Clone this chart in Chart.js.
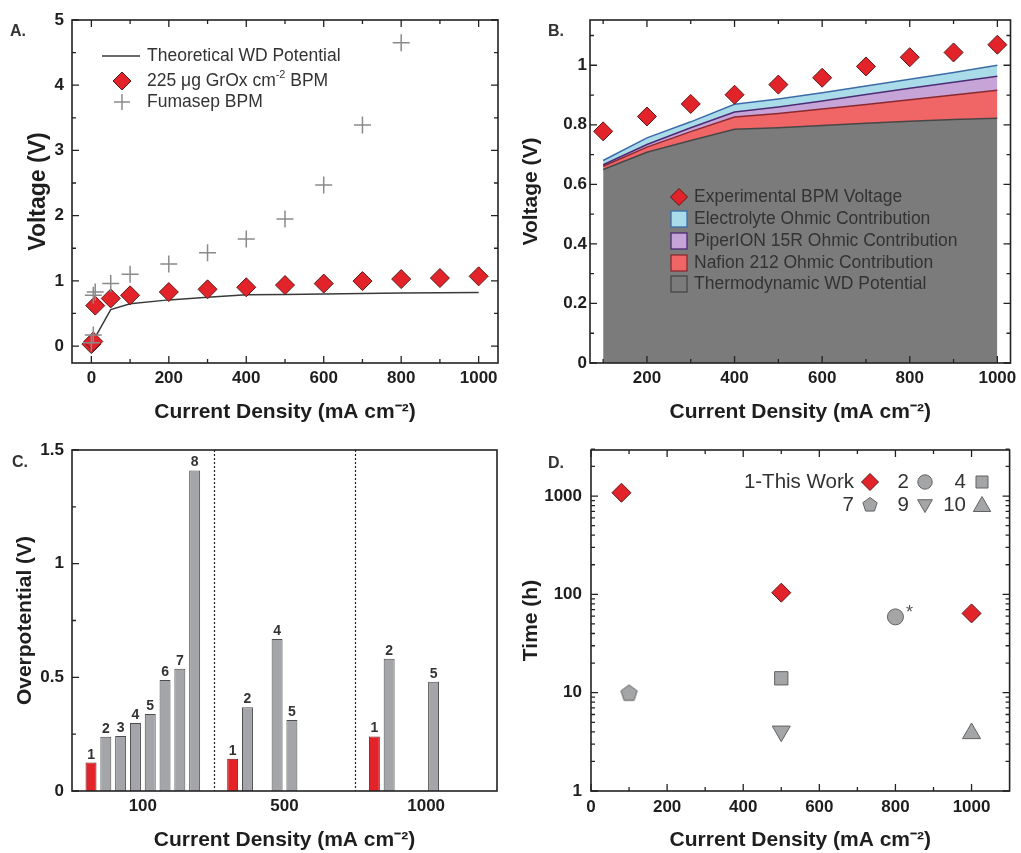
<!DOCTYPE html>
<html><head><meta charset="utf-8">
<script src="https://cdn.jsdelivr.net/npm/chart.js@4.4.1/dist/chart.umd.min.js"></script>
<style>
html,body{margin:0;padding:0;background:#fff;}
#wrap{position:relative;width:1021px;height:853px;overflow:hidden;background:#fff;}
canvas{position:absolute;}
</style></head><body>
<div id="wrap">
<canvas id="cA" width="510" height="425" style="left:0;top:0"></canvas>
<canvas id="cB" width="511" height="425" style="left:510px;top:0"></canvas>
<canvas id="cC" width="510" height="428" style="left:0;top:425px"></canvas>
<canvas id="cD" width="511" height="428" style="left:510px;top:425px"></canvas>
</div>
<script>
// ---------------- Panel A data ----------------
const aTheoX = [0, 50, 100, 200, 300, 400, 500, 600, 700, 800, 900, 1000];
const aTheoY = [0.03, 0.56, 0.65, 0.708, 0.747, 0.785, 0.79, 0.798, 0.805, 0.812, 0.818, 0.822];
const aGrOxX = [0, 5, 10, 50, 100, 200, 300, 400, 500, 600, 700, 800, 900, 1000];
const aGrOxY = [0.03, 0.07, 0.62, 0.73, 0.778, 0.828, 0.870, 0.901, 0.935, 0.958, 0.996, 1.027, 1.043, 1.069];
const aFumaX = [0, 5, 5, 10, 50, 100, 200, 300, 400, 500, 600, 700, 800];
const aFumaY = [0.05, 0.17, 0.78, 0.83, 0.96, 1.10, 1.26, 1.43, 1.64, 1.95, 2.47, 3.39, 4.65];
const aXTicks = [0, 200, 400, 600, 800, 1000];
const aXLabels = ['0', '200', '400', '600', '800', '1000'];
const aXMinor = [100, 300, 500, 700, 900];
const aYTicks = [0, 1, 2, 3, 4, 5];
const aYLabels = ['0', '1', '2', '3', '4', '5'];
const aYMinor = [0.5, 1.5, 2.5, 3.5, 4.5];

// ---------------- Panel B data ----------------
const bX = [100, 200, 300, 400, 500, 600, 700, 800, 900, 1000];
const bExp = [0.778, 0.828, 0.870, 0.901, 0.935, 0.958, 0.996, 1.027, 1.043, 1.069];
const bElectrolyte = [0.680, 0.756, 0.810, 0.869, 0.887, 0.908, 0.930, 0.953, 0.976, 1.000];
const bPiperion = [0.666, 0.734, 0.790, 0.843, 0.860, 0.880, 0.902, 0.923, 0.943, 0.963];
const bNafion = [0.661, 0.725, 0.777, 0.826, 0.838, 0.853, 0.868, 0.884, 0.900, 0.916];
const bThermo = [0.650, 0.708, 0.747, 0.785, 0.790, 0.798, 0.805, 0.812, 0.818, 0.822];
const bXTicks = [200, 400, 600, 800, 1000];
const bXLabels = ['200', '400', '600', '800', '1000'];
const bXMinor = [100, 300, 500, 700, 900];
const bYTicks = [0, 0.2, 0.4, 0.6, 0.8, 1];
const bYLabels = ['0', '0.2', '0.4', '0.6', '0.8', '1'];
const bYMinor = [0.1, 0.3, 0.5, 0.7, 0.9, 1.1];

// ---------------- Panel C data ----------------
const cCats = ['100', '500', '1000'];
const cRef1 = [0.125, 0.142, 0.240];
const cRef2 = [0.239, 0.368, 0.582];
const cRef3 = [0.242, null, null];
const cRef4 = [0.299, 0.669, null];
const cRef5 = [0.339, 0.312, 0.481];
const cRef6 = [0.488, null, null];
const cRef7 = [0.538, null, null];
const cRef8 = [1.41, null, null];
const cRefNames = ['1', '2', '3', '4', '5', '6', '7', '8'];
const cYTicks = [0, 0.5, 1, 1.5];
const cYLabels = ['0', '0.5', '1', '1.5'];
const cYMinor = [0.25, 0.75, 1.25];

// ---------------- Panel D data ----------------
const dThisX = [80, 500, 1000];
const dThisY = [1080, 104, 64];
const dRef2X = [800];  const dRef2Y = [59];
const dRef4X = [500];  const dRef4Y = [14];
const dRef7X = [100];  const dRef7Y = [10];
const dRef9X = [500];  const dRef9Y = [4.05];
const dRef10X = [1000]; const dRef10Y = [3.85];
const dXTicks = [0, 200, 400, 600, 800, 1000];
const dXLabels = ['0', '200', '400', '600', '800', '1000'];
const dXMinor = [100, 300, 500, 700, 900];
const dYTicks = [1, 10, 100, 1000];
const dYLabels = ['1', '10', '100', '1000'];
const dYMinor = [2,3,4,5,6,7,8,9,20,30,40,50,60,70,80,90,200,300,400,500,600,700,800,900,2000,3000];

// ---------------- styling helpers ----------------
const TXT = '#1e1e1e';
const FONT = "'Liberation Sans', Arial, Helvetica, sans-serif";
const RED = '#e3232a', RED_EDGE = '#5e1717';
const GRAY = '#a4a5a7', GRAY_EDGE = '#626262';
const BAR_GRAY = '#a3a5a8', BAR_EDGE = '#4c4c4c';
const tickFont = {family: FONT, size: 17, weight: 'bold'};
const titleFont = {family: FONT, size: 21, weight: 'bold'};
const XTITLE = 'Current Density (mA cm\u207B\u00B2)';

function pts(xs, ys) { return xs.map((x, i) => ({x: x, y: ys[i]})); }

function scale(o) {
  const s = {
    type: o.type || 'linear',
    position: o.pos,
    grid: {display: false, drawTicks: false},
    border: {display: false},
    ticks: {font: tickFont, color: TXT, padding: o.pad, autoSkip: false, maxRotation: 0, minRotation: 0,
            callback: (v, i) => o.labels[i]},
    afterFit: sc => {
      if (o.pos === 'bottom') sc.height = o.size; else sc.width = o.size;
      sc.paddingLeft = 0; sc.paddingRight = 0; sc.paddingTop = 0; sc.paddingBottom = 0;
    },
    title: {display: true, text: o.title, font: o.titleFont || titleFont, color: TXT, padding: o.titlePad}
  };
  if (o.min !== undefined) s.min = o.min;
  if (o.max !== undefined) s.max = o.max;
  if (o.ticksVals) s.afterBuildTicks = sc => { sc.ticks = o.ticksVals.map(v => ({value: v})); };
  return s;
}

function baseOpts(pad) {
  return {
    responsive: false, animation: false, events: [],
    layout: {padding: pad},
    plugins: {legend: {display: false}, tooltip: {enabled: false}}
  };
}

function frame(ctx, ca) {
  ctx.save(); ctx.strokeStyle = '#222'; ctx.lineWidth = 1.6;
  ctx.strokeRect(ca.left, ca.top, ca.right - ca.left, ca.bottom - ca.top);
  ctx.restore();
}
function tickMarks(chart, axis, vals, len, sides) {
  const ctx = chart.ctx, ca = chart.chartArea, sc = chart.scales[axis];
  ctx.save(); ctx.strokeStyle = '#222'; ctx.lineWidth = 1.3; ctx.beginPath();
  vals.forEach(v => {
    const p = sc.getPixelForValue(v);
    sides.forEach(s => {
      if (s === 'bottom') { ctx.moveTo(p, ca.bottom); ctx.lineTo(p, ca.bottom - len); }
      if (s === 'top') { ctx.moveTo(p, ca.top); ctx.lineTo(p, ca.top + len); }
      if (s === 'left') { ctx.moveTo(ca.left, p); ctx.lineTo(ca.left + len, p); }
      if (s === 'right') { ctx.moveTo(ca.right, p); ctx.lineTo(ca.right - len, p); }
    });
  });
  ctx.stroke(); ctx.restore();
}
function panelLabel(ctx, t, x, y) {
  ctx.save(); ctx.font = 'bold 16px ' + FONT; ctx.fillStyle = '#333';
  ctx.textAlign = 'left'; ctx.textBaseline = 'middle'; ctx.fillText(t, x, y); ctx.restore();
}
function marker(ctx, type, x, y, r, fill, stroke, lw) {
  ctx.save(); ctx.beginPath();
  if (type === 'diamond') { ctx.moveTo(x, y - r); ctx.lineTo(x + r, y); ctx.lineTo(x, y + r); ctx.lineTo(x - r, y); ctx.closePath(); }
  else if (type === 'circle') { ctx.arc(x, y, r, 0, Math.PI * 2); }
  else if (type === 'square') { ctx.rect(x - r, y - r, 2 * r, 2 * r); }
  else if (type === 'tri' || type === 'tridown' || type === 'pent') {
    const n = type === 'pent' ? 5 : 3;
    const a0 = type === 'tridown' ? Math.PI / 2 : -Math.PI / 2;
    for (let k = 0; k < n; k++) {
      const a = a0 + k * 2 * Math.PI / n;
      const px = x + r * Math.cos(a), py = y + r * Math.sin(a);
      if (k === 0) ctx.moveTo(px, py); else ctx.lineTo(px, py);
    }
    ctx.closePath();
  } else if (type === 'cross') {
    ctx.moveTo(x - r, y); ctx.lineTo(x + r, y); ctx.moveTo(x, y - r); ctx.lineTo(x, y + r);
  }
  if (fill && type !== 'cross') { ctx.fillStyle = fill; ctx.fill(); }
  if (stroke) { ctx.strokeStyle = stroke; ctx.lineWidth = lw || 1; ctx.stroke(); }
  ctx.restore();
}
function supText(ctx, parts, x, y, size, color) {
  ctx.save(); ctx.fillStyle = color; ctx.textAlign = 'left'; ctx.textBaseline = 'middle';
  let cx = x;
  parts.forEach(p => {
    const sup = p[1];
    ctx.font = (sup ? size * 0.62 : size) + 'px ' + FONT;
    ctx.fillText(p[0], cx, sup ? y - size * 0.36 : y);
    cx += ctx.measureText(p[0]).width;
  });
  ctx.restore();
}
function legText(ctx, t, x, y, size, align) {
  ctx.save(); ctx.fillStyle = '#333'; ctx.font = size + 'px ' + FONT;
  ctx.textAlign = align || 'left'; ctx.textBaseline = 'middle'; ctx.fillText(t, x, y); ctx.restore();
}
function makePent(r, fill, stroke) {
  const c = document.createElement('canvas'); const s = Math.ceil(2 * r + 4);
  c.width = s; c.height = s;
  marker(c.getContext('2d'), 'pent', s / 2, s / 2 + 0.8, r, fill, stroke, 1);
  return c;
}

// ---------------- Panel A ----------------
new Chart(document.getElementById('cA'), {
  type: 'scatter',
  data: {datasets: [
    {label: 'Fumasep BPM', data: pts(aFumaX, aFumaY), pointStyle: 'cross', pointRadius: 8.5,
     pointBorderColor: '#8a8a8a', pointBorderWidth: 1.5, showLine: false},
    {label: '225 μg GrOx cm-2 BPM', data: pts(aGrOxX, aGrOxY), pointStyle: 'rectRot', pointRadius: 9.5,
     pointBackgroundColor: RED, pointBorderColor: RED_EDGE, pointBorderWidth: 1, showLine: false},
    {label: 'Theoretical WD Potential', data: pts(aTheoX, aTheoY), showLine: true, pointRadius: 0,
     borderColor: '#3a3a3a', borderWidth: 1.5, fill: false}
  ]},
  options: Object.assign(baseOpts({left: 0, top: 20, right: 12, bottom: 0}), {
    scales: {
      x: scale({pos: 'bottom', min: -50, max: 1050, ticksVals: aXTicks, labels: aXLabels, size: 62, pad: 5,
                title: XTITLE, titlePad: {top: 0, bottom: 0}}),
      y: scale({pos: 'left', min: -0.26, max: 5, ticksVals: aYTicks, labels: aYLabels, size: 72, pad: 8,
                title: 'Voltage (V)', titleFont: {family: FONT, size: 23, weight: 'bold'}, titlePad: {top: 25, bottom: 0}})
    }
  }),
  plugins: [{id: 'decoA', afterDraw(chart) {
    const ctx = chart.ctx;
    frame(ctx, chart.chartArea);
    tickMarks(chart, 'x', aXTicks, 7, ['bottom', 'top']);
    tickMarks(chart, 'x', aXMinor, 4, ['bottom', 'top']);
    tickMarks(chart, 'y', aYTicks, 7, ['left', 'right']);
    tickMarks(chart, 'y', aYMinor, 4, ['left', 'right']);
    panelLabel(ctx, 'A.', 10, 32);
    ctx.save(); ctx.strokeStyle = '#3a3a3a'; ctx.lineWidth = 1.5;
    ctx.beginPath(); ctx.moveTo(102, 56); ctx.lineTo(140, 56); ctx.stroke(); ctx.restore();
    legText(ctx, 'Theoretical WD Potential', 147, 56, 17.5);
    marker(ctx, 'diamond', 122, 81, 9, RED, RED_EDGE, 1);
    supText(ctx, [['225 μg GrOx cm', false], ['-2', true], [' BPM', false]], 147, 81, 17.5, '#333');
    marker(ctx, 'cross', 122, 102, 8, null, '#8a8a8a', 1.5);
    legText(ctx, 'Fumasep BPM', 147, 102, 17.5);
  }}]
});

// ---------------- Panel B ----------------
const areaColors = [
  ['#3c6ca8', '#aadbe9'], ['#4b2c75', '#c7a4d7'], ['#8a2a30', '#f06566'], ['#474747', '#7b7b7b']
];
new Chart(document.getElementById('cB'), {
  type: 'scatter',
  data: {datasets: [
    {label: 'Experimental BPM Voltage', data: pts(bX, bExp), pointStyle: 'rectRot', pointRadius: 9.5,
     pointBackgroundColor: RED, pointBorderColor: RED_EDGE, pointBorderWidth: 1, showLine: false},
    {label: 'Electrolyte Ohmic Contribution', data: pts(bX, bElectrolyte), showLine: true, pointRadius: 0,
     borderColor: areaColors[0][0], backgroundColor: areaColors[0][1], borderWidth: 1.5, fill: 2},
    {label: 'PiperION 15R Ohmic Contribution', data: pts(bX, bPiperion), showLine: true, pointRadius: 0,
     borderColor: areaColors[1][0], backgroundColor: areaColors[1][1], borderWidth: 1.5, fill: 3},
    {label: 'Nafion 212 Ohmic Contribution', data: pts(bX, bNafion), showLine: true, pointRadius: 0,
     borderColor: areaColors[2][0], backgroundColor: areaColors[2][1], borderWidth: 1.5, fill: 4},
    {label: 'Thermodynamic WD Potential', data: pts(bX, bThermo), showLine: true, pointRadius: 0,
     borderColor: areaColors[3][0], backgroundColor: areaColors[3][1], borderWidth: 1.5, fill: 'origin'}
  ]},
  options: Object.assign(baseOpts({left: 0, top: 20, right: 6, bottom: 0}), {
    plugins: {legend: {display: false}, tooltip: {enabled: false}, filler: {drawTime: 'beforeDatasetsDraw'}},
    scales: {
      x: scale({pos: 'bottom', min: 70, max: 1030, ticksVals: bXTicks, labels: bXLabels, size: 62, pad: 5,
                title: XTITLE, titlePad: {top: 0, bottom: 0}}),
      y: scale({pos: 'left', min: 0, max: 1.152, ticksVals: bYTicks, labels: bYLabels, size: 80, pad: 3,
                title: 'Voltage (V)', titlePad: {top: 9, bottom: 0}})
    }
  }),
  plugins: [{id: 'decoB', afterDraw(chart) {
    const ctx = chart.ctx;
    frame(ctx, chart.chartArea);
    tickMarks(chart, 'x', bXTicks, 7, ['bottom', 'top']);
    tickMarks(chart, 'x', bXMinor, 4, ['bottom', 'top']);
    tickMarks(chart, 'y', bYTicks, 7, ['left', 'right']);
    tickMarks(chart, 'y', bYMinor, 4, ['left', 'right']);
    panelLabel(ctx, 'B.', 38, 32);
    const ds = chart.data.datasets;
    const rows = [197, 219, 241, 263, 284];
    marker(ctx, 'diamond', 169, rows[0], 8.5, RED, RED_EDGE, 1);
    legText(ctx, ds[0].label, 184, rows[0], 17.5);
    for (let i = 1; i < 5; i++) {
      ctx.save(); ctx.fillStyle = areaColors[i - 1][1]; ctx.strokeStyle = areaColors[i - 1][0]; ctx.lineWidth = 1.3;
      ctx.fillRect(161, rows[i] - 8, 16, 16); ctx.strokeRect(161, rows[i] - 8, 16, 16); ctx.restore();
      legText(ctx, ds[i].label, 184, rows[i], 17.5);
    }
  }}]
});

// ---------------- Panel C ----------------
const cSeries = [cRef1, cRef2, cRef3, cRef4, cRef5, cRef6, cRef7, cRef8];
new Chart(document.getElementById('cC'), {
  type: 'bar',
  data: {labels: cCats, datasets: cSeries.map((vals, i) => ({
    label: cRefNames[i], data: vals,
    backgroundColor: i === 0 ? RED : BAR_GRAY, borderColor: i === 0 ? '#6e1616' : BAR_EDGE, borderWidth: 1,
    categoryPercentage: 0.836, barPercentage: 0.74
  }))},
  options: Object.assign(baseOpts({left: 0, top: 25, right: 13, bottom: 0}), {
    scales: {
      x: scale({pos: 'bottom', type: 'category', labels: cCats, size: 62, pad: 5.5,
                title: XTITLE, titlePad: {top: 0, bottom: 0}}),
      y: scale({pos: 'left', min: 0, max: 1.5, ticksVals: cYTicks, labels: cYLabels, size: 72, pad: 8,
                title: 'Overpotential (V)', titlePad: {top: 13, bottom: 0}})
    }
  }),
  plugins: [{id: 'decoC', afterDraw(chart) {
    const ctx = chart.ctx, ca = chart.chartArea, xs = chart.scales.x;
    // dotted separators between current-density groups
    ctx.save(); ctx.strokeStyle = '#222'; ctx.lineWidth = 1.2; ctx.setLineDash([2, 2]);
    for (let i = 0; i < cCats.length - 1; i++) {
      const p = Math.round((xs.getPixelForValue(i) + xs.getPixelForValue(i + 1)) / 2) + 0.5;
      ctx.beginPath(); ctx.moveTo(p, ca.top); ctx.lineTo(p, ca.bottom); ctx.stroke();
    }
    ctx.restore();
    frame(ctx, ca);
    tickMarks(chart, 'y', cYTicks, 7, ['left']);
    tickMarks(chart, 'y', cYMinor, 4, ['left']);
    panelLabel(ctx, 'C.', 12, 38);
    ctx.save(); ctx.font = 'bold 14px ' + FONT; ctx.fillStyle = '#333'; ctx.textAlign = 'center'; ctx.textBaseline = 'alphabetic';
    chart.data.datasets.forEach((d, di) => {
      const meta = chart.getDatasetMeta(di);
      meta.data.forEach((el, j) => {
        if (d.data[j] === null) return;
        ctx.fillText(d.label, el.x, el.y - 4);
      });
    });
    ctx.restore();
  }}]
});

// ---------------- Panel D ----------------
const pentImg = makePent(8.5, GRAY, GRAY_EDGE);
new Chart(document.getElementById('cD'), {
  type: 'scatter',
  data: {datasets: [
    {label: '1-This Work', data: pts(dThisX, dThisY), pointStyle: 'rectRot', pointRadius: 9.5,
     pointBackgroundColor: RED, pointBorderColor: RED_EDGE, pointBorderWidth: 1},
    {label: '2', data: pts(dRef2X, dRef2Y), pointStyle: 'circle', pointRadius: 8,
     pointBackgroundColor: GRAY, pointBorderColor: GRAY_EDGE, pointBorderWidth: 1},
    {label: '4', data: pts(dRef4X, dRef4Y), pointStyle: 'rect', pointRadius: 9.4,
     pointBackgroundColor: GRAY, pointBorderColor: GRAY_EDGE, pointBorderWidth: 1},
    {label: '7', data: pts(dRef7X, dRef7Y), pointStyle: pentImg, pointRadius: 8.5},
    {label: '9', data: pts(dRef9X, dRef9Y), pointStyle: 'triangle', pointRotation: 180, pointRadius: 10.4,
     pointBackgroundColor: GRAY, pointBorderColor: GRAY_EDGE, pointBorderWidth: 1},
    {label: '10', data: pts(dRef10X, dRef10Y), pointStyle: 'triangle', pointRadius: 10.4,
     pointBackgroundColor: GRAY, pointBorderColor: GRAY_EDGE, pointBorderWidth: 1}
  ]},
  options: Object.assign(baseOpts({left: 0, top: 25, right: 6, bottom: 0}), {
    scales: {
      x: scale({pos: 'bottom', min: 0, max: 1100, ticksVals: dXTicks, labels: dXLabels, size: 62, pad: 6,
                title: XTITLE, titlePad: {top: 0, bottom: 0}}),
      y: scale({pos: 'left', type: 'logarithmic', min: 1, max: 2940, ticksVals: dYTicks, labels: dYLabels, size: 81, pad: 9,
                title: 'Time (h)', titlePad: {top: 9, bottom: 0}})
    }
  }),
  plugins: [{id: 'decoD', afterDraw(chart) {
    const ctx = chart.ctx;
    frame(ctx, chart.chartArea);
    tickMarks(chart, 'x', dXTicks, 7, ['bottom', 'top']);
    tickMarks(chart, 'x', dXMinor, 4, ['bottom', 'top']);
    tickMarks(chart, 'y', dYTicks, 7, ['left', 'right']);
    tickMarks(chart, 'y', dYMinor, 4, ['left', 'right']);
    panelLabel(ctx, 'D.', 38, 39);
    // asterisk next to ref 2
    const px = chart.scales.x.getPixelForValue(dRef2X[0]), py = chart.scales.y.getPixelForValue(dRef2Y[0]);
    ctx.save(); ctx.font = '18px ' + FONT; ctx.fillStyle = '#555'; ctx.textAlign = 'center'; ctx.textBaseline = 'middle';
    ctx.fillText('*', px + 14, py - 4); ctx.restore();
    // legend
    const ds = chart.data.datasets;
    const cols = [360, 415, 472], rows = [57, 80];
    const items = [
      [0, 0, 'diamond', 8.5, RED, RED_EDGE], [1, 0, 'circle', 7.2, GRAY, GRAY_EDGE], [2, 0, 'square', 6, GRAY, GRAY_EDGE],
      [0, 1, 'pent', 7.5, GRAY, GRAY_EDGE], [1, 1, 'tridown', 8.5, GRAY, GRAY_EDGE], [2, 1, 'tri', 10, GRAY, GRAY_EDGE]
    ];
    items.forEach((it, k) => {
      const x = cols[it[0]], y = rows[it[1]];
      marker(ctx, it[2], x, it[2] === 'tri' ? y + 1.5 : (it[2] === 'tridown' ? y - 1 : y), it[3], it[4], it[5], 1);
      legText(ctx, ds[k].label, x - 16, y, 20.5, 'right');
    });
  }}]
});
</script>
</body></html>
